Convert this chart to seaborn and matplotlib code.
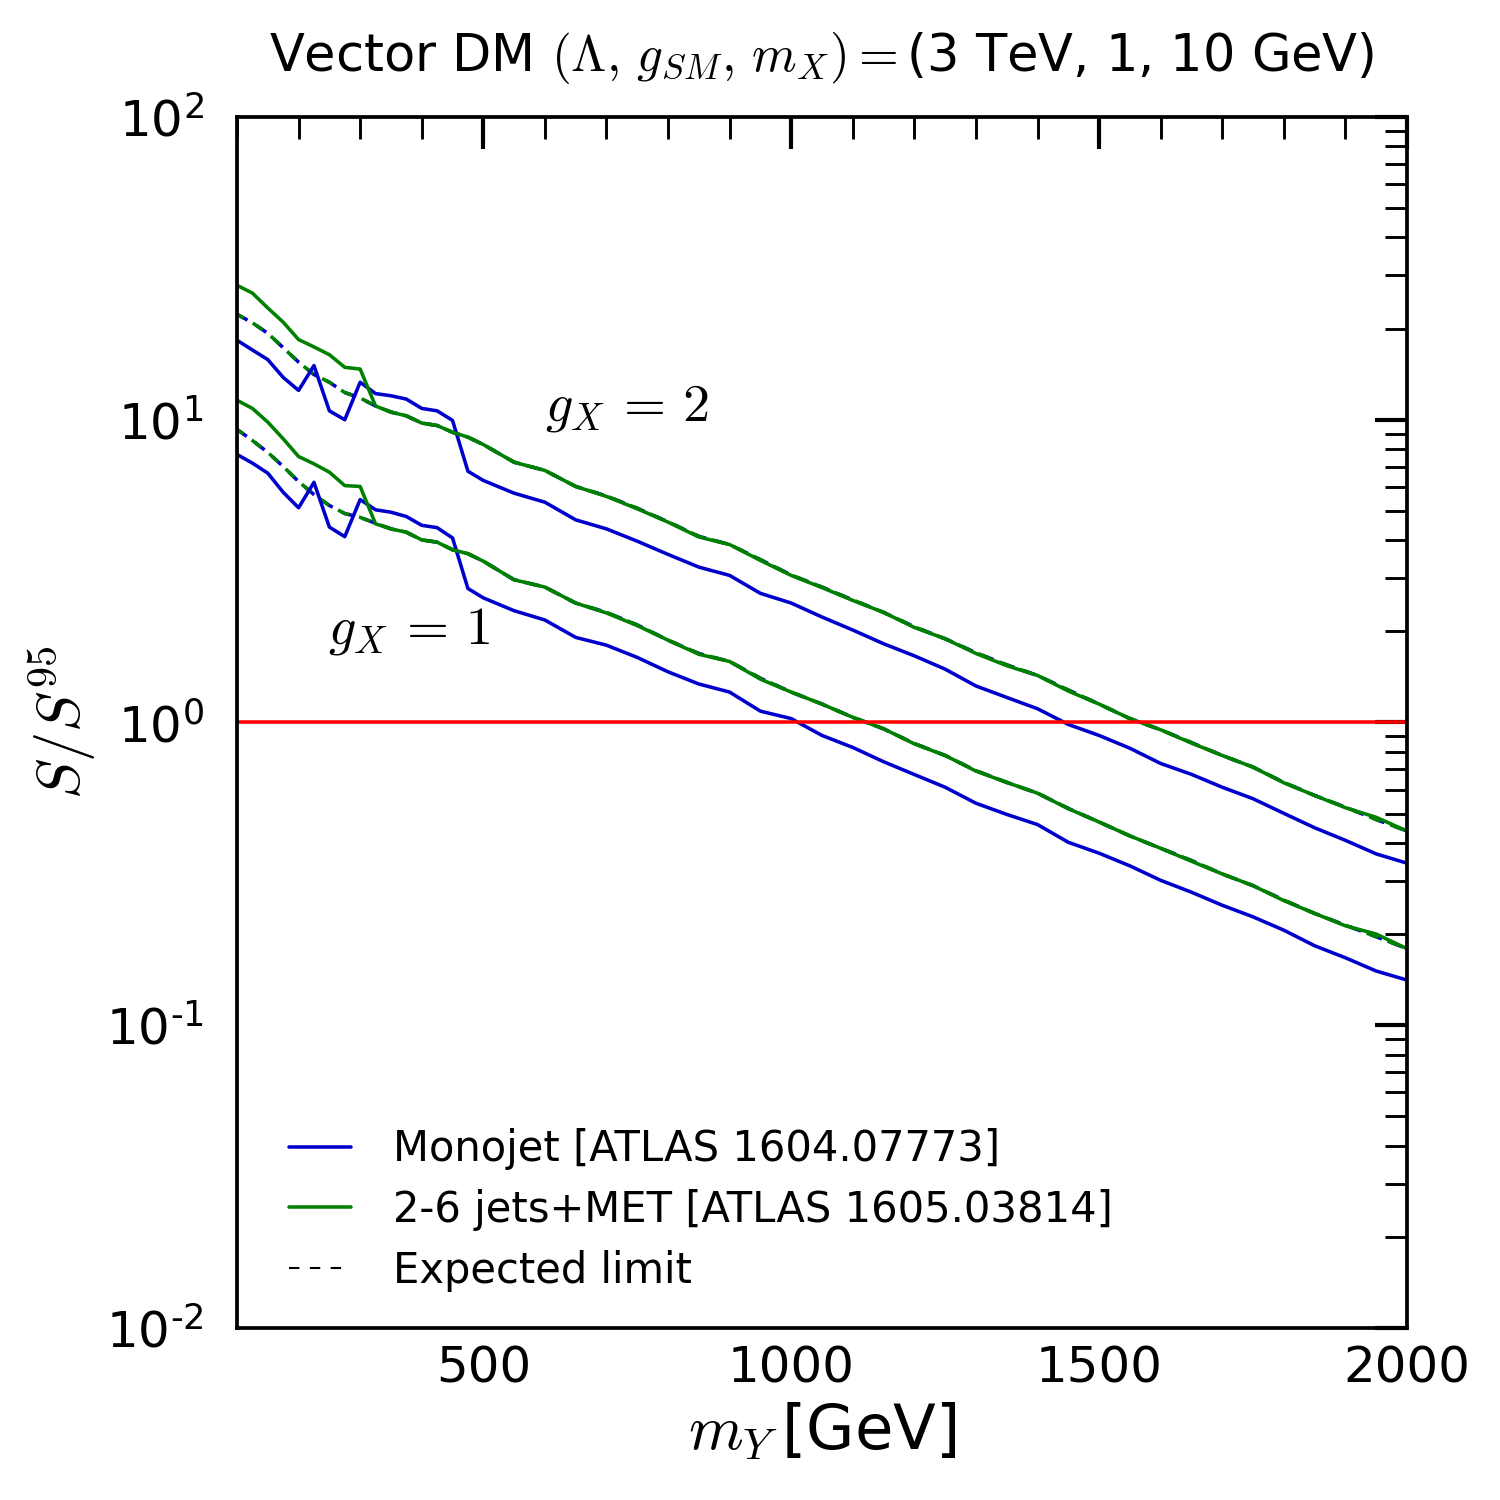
import numpy as np
import matplotlib
matplotlib.use("Agg")
import matplotlib.pyplot as plt
import seaborn as sns
from matplotlib.lines import Line2D
from matplotlib.ticker import FixedLocator, MultipleLocator, LogLocator, FuncFormatter, NullFormatter

# Data (S/S95 vs m_Y in GeV)
mass = [100, 125, 150, 175, 200, 225, 250, 275, 300, 325, 350, 375, 400, 425, 450, 475, 500,
        550, 600, 650, 700, 750, 800, 850, 900, 950, 1000,
        1050, 1100, 1150, 1200, 1250, 1300, 1350, 1400, 1450, 1500,
        1550, 1600, 1650, 1700, 1750, 1800, 1850, 1900, 1950, 2000]

# g_X = 2
mono_g2 = [18.3, 17.0, 15.8, 13.8, 12.5, 15.1, 10.7, 10.0, 13.3, 12.2, 12.0, 11.7, 10.9, 10.7, 9.95, 6.76, 6.3,
           5.72, 5.34, 4.67, 4.36, 3.97, 3.59, 3.26, 3.06, 2.67, 2.48,
           2.23, 2.02, 1.82, 1.66, 1.50, 1.32, 1.21, 1.11, 0.985, 0.906,
           0.822, 0.732, 0.674, 0.611, 0.560, 0.501, 0.449, 0.408, 0.368, 0.343]
jets_g2 = [27.8, 26.2, 23.4, 21.0, 18.4, 17.4, 16.4, 14.9, 14.7, 11.1, 10.6, 10.3, 9.75, 9.57, 9.09, 8.76, 8.28,
           7.24, 6.80, 6.02, 5.58, 5.08, 4.59, 4.10, 3.87, 3.43, 3.06,
           2.79, 2.53, 2.31, 2.06, 1.89, 1.69, 1.54, 1.43, 1.27, 1.15,
           1.03, 0.946, 0.855, 0.778, 0.712, 0.632, 0.574, 0.523, 0.486, 0.438]
exp_g2 = [22.3, 20.9, 19.3, 17.3, 15.5, 14.1, 13.3, 12.3, 11.8, 11.1, 10.6, 10.3, 9.75, 9.57, 9.09, 8.76, 8.28,
          7.24, 6.80, 6.02, 5.60, 5.10, 4.60, 4.12, 3.87, 3.45, 3.07,
          2.80, 2.54, 2.31, 2.07, 1.89, 1.70, 1.55, 1.43, 1.28, 1.15,
          1.03, 0.946, 0.858, 0.778, 0.712, 0.634, 0.574, 0.525, 0.478, 0.438]

# g_X = 1
mono_g1 = [7.68, 7.19, 6.66, 5.76, 5.12, 6.21, 4.42, 4.11, 5.45, 5.04, 4.95, 4.79, 4.48, 4.40, 4.07, 2.77, 2.58,
           2.34, 2.18, 1.91, 1.80, 1.64, 1.47, 1.34, 1.26, 1.09, 1.03,
           0.906, 0.827, 0.742, 0.673, 0.611, 0.541, 0.497, 0.460, 0.402, 0.370,
           0.336, 0.301, 0.275, 0.249, 0.228, 0.206, 0.183, 0.167, 0.151, 0.141]
jets_g1 = [11.6, 10.9, 9.82, 8.65, 7.56, 7.15, 6.71, 6.06, 6.02, 4.53, 4.36, 4.25, 4.01, 3.94, 3.72, 3.61, 3.41,
           2.96, 2.80, 2.48, 2.30, 2.09, 1.87, 1.68, 1.59, 1.39, 1.26,
           1.15, 1.04, 0.953, 0.850, 0.778, 0.691, 0.634, 0.584, 0.519, 0.469,
           0.422, 0.384, 0.348, 0.316, 0.289, 0.258, 0.234, 0.213, 0.200, 0.179]
exp_g1 = [9.29, 8.54, 7.80, 7.01, 6.25, 5.66, 5.21, 4.90, 4.76, 4.55, 4.36, 4.25, 4.01, 3.94, 3.72, 3.61, 3.41,
          2.96, 2.80, 2.48, 2.31, 2.10, 1.87, 1.69, 1.59, 1.40, 1.26,
          1.15, 1.04, 0.953, 0.852, 0.778, 0.693, 0.634, 0.584, 0.520, 0.469,
          0.422, 0.384, 0.350, 0.316, 0.289, 0.259, 0.234, 0.214, 0.196, 0.179]

legend_labels = ["Monojet [ATLAS 1604.07773]", "2-6 jets+MET [ATLAS 1605.03814]", "Expected limit"]

sns.set_theme(style="white")
plt.rcParams["font.family"] = ["DejaVu Sans"]
plt.rcParams["mathtext.fontset"] = "cm"
plt.rcParams["text.color"] = "black"
plt.rcParams["axes.labelcolor"] = "black"
plt.rcParams["xtick.color"] = "black"
plt.rcParams["ytick.color"] = "black"

BLUE = "#0000cd"
GREEN = "#008000"
lw = 1.7

fig = plt.figure(figsize=(10, 10), dpi=150)
ax = fig.add_axes([0.158, 0.1147, 0.78, 0.8073])

for mono, jets, exp in [(mono_g2, jets_g2, exp_g2), (mono_g1, jets_g1, exp_g1)]:
    sns.lineplot(x=mass, y=exp, color=BLUE, lw=lw, linestyle=(0, (3.4, 2.9)), ax=ax)
    sns.lineplot(x=mass, y=exp, color=GREEN, lw=lw, linestyle=(1.2, (3.4, 2.9)), ax=ax)
    sns.lineplot(x=mass, y=mono, color=BLUE, lw=lw, ax=ax)
    sns.lineplot(x=mass, y=jets, color=GREEN, lw=lw, ax=ax)

ax.axhline(1.0, color="red", lw=lw)

ax.set_yscale("log")
ax.set_xlim(100, 2000)
ax.set_ylim(1e-2, 1e2)


def log_label(v, pos):
    e = int(round(np.log10(v)))
    s = str(abs(e))
    if e < 0:
        s = "\u2010" + s
    return r"$\mathregular{10^{%s}}$" % s


ax.xaxis.set_major_locator(FixedLocator([500, 1000, 1500, 2000]))
ax.xaxis.set_minor_locator(MultipleLocator(100))
ax.yaxis.set_major_locator(LogLocator(base=10, numticks=10))
ax.yaxis.set_minor_locator(LogLocator(base=10, subs=np.arange(2, 10), numticks=20))
ax.yaxis.set_minor_formatter(NullFormatter())
ax.yaxis.set_major_formatter(FuncFormatter(log_label))

for s in ax.spines.values():
    s.set_linewidth(1.8)
    s.set_color("black")
ax.tick_params(which="both", direction="in", top=True, right=True, colors="black")
ax.tick_params(which="major", length=15.5, width=2.0, labelsize=24)
ax.tick_params(which="minor", length=10.5, width=1.4)
ax.tick_params(axis="x", which="major", pad=8)
ax.tick_params(axis="y", which="major", pad=16)

ax.text(600, 10.9, r"$g_X\,=\,2$", fontsize=26, va="center", ha="left")
ax.text(248, 2.01, r"$g_X\,=\,1$", fontsize=26, va="center", ha="left")

ax.set_xlabel(r"$m_Y\,$[GeV]", fontsize=30, labelpad=4)
ax.set_ylabel(r"$S/S^{95}$", fontsize=29)
ax.yaxis.set_label_coords(-0.118, 0.5)
ax.set_title(r"Vector DM $(\Lambda,\,g_{SM},\,m_X)=$(3 TeV, 1, 10 GeV)", fontsize=24.5, pad=22)

handles = [Line2D([], [], color=BLUE, lw=lw),
           Line2D([], [], color=GREEN, lw=lw),
           Line2D([], [], color="black", lw=1.0, linestyle=(0, (5, 5)))]
ax.legend(handles, legend_labels, loc="lower left", bbox_to_anchor=(0.012, -0.001),
          frameon=False, fontsize=20, handlelength=1.5, handletextpad=1.0, labelspacing=0.45)

fig.savefig("out.png", dpi=150)
